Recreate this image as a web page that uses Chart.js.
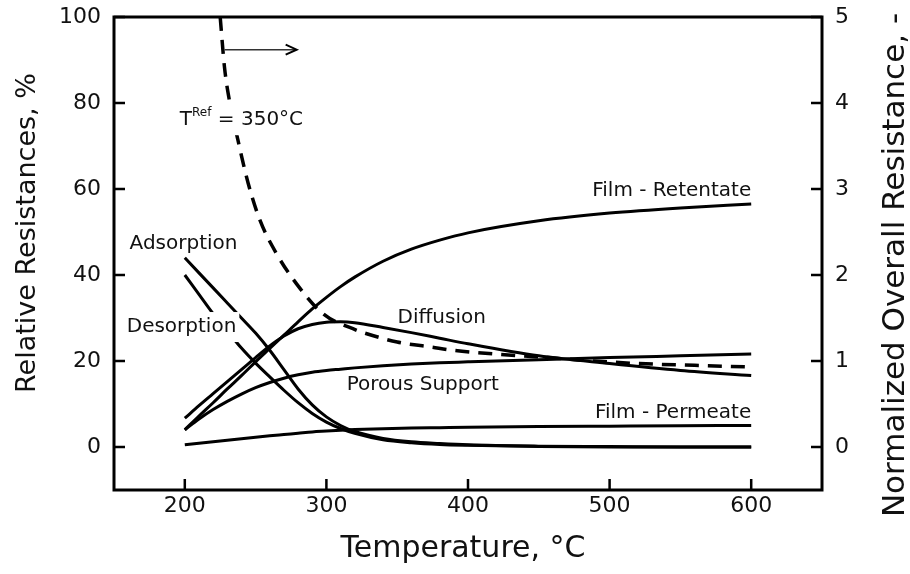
<!DOCTYPE html>
<html>
<head>
<meta charset="utf-8">
<script src="https://cdn.jsdelivr.net/npm/chart.js@4.4.1/dist/chart.umd.min.js"></script>
<style>
  html, body { margin: 0; padding: 0; background: #fff; }
</style>
</head>
<body>
<canvas id="chart" width="910" height="574"></canvas>
<script>
// temperatures (°C) shared by the relative resistance curves
const temps = [200,210,220,230,240,250,260,270,280,290,300,310,320,340,360,380,400,450,500,550,600];
const adsorption = [44,40.5,37,33.5,30,26.5,22.5,18,13.5,9.8,7,5,3.6,2,1.2,0.8,0.5,0.2,0.1,0,0];
const desorption = [40,35.5,31,27,23,19.5,16.3,13.2,10.3,7.8,5.8,4.3,3.2,1.7,1,0.6,0.4,0.1,0,0,0];
const diffusion = [6.7,9.6,12.4,15.2,18,20.8,23.5,25.8,27.5,28.5,29,29.1,28.9,27.8,26.6,25.3,24,21.2,19.4,17.8,16.6];
const filmRetentate = [4,7.2,10.3,13.5,16.6,19.8,22.9,26,29.1,32.1,34.8,37.3,39.5,43.2,46,48.1,49.8,52.6,54.4,55.6,56.5];
const porousSupport = [4,6.5,8.7,10.6,12.3,13.8,15,16,16.8,17.4,17.8,18.1,18.4,18.9,19.3,19.6,19.8,20.3,20.8,21.2,21.6];
const filmPermeate = [0.5,0.85,1.2,1.55,1.9,2.25,2.6,2.9,3.2,3.5,3.7,3.9,4.05,4.25,4.4,4.5,4.6,4.75,4.85,4.95,5];

// normalized overall resistance (right axis), T_ref = 350 °C
const overallTemps = [225,228,231.5,237.5,244.7,253,264.7,278.8,297.6,321,328,350,375,387,420,448,480,521,560,600];
const overall = [5.0,4.42,4.03,3.57,3.07,2.64,2.25,1.9,1.55,1.36,1.32,1.22,1.16,1.13,1.08,1.05,1.01,0.97,0.95,0.93];

const xTicks = [200,300,400,500,600];
const leftTicks = [0,20,40,60,80,100];
const rightTicks = [0,1,2,3,4,5];

const FONT = 'DejaVu Sans';

function pts(xs, ys) {
    return xs.map((x, i) => ({ x: x, y: ys[i] }));
}

function line(data, axis, dash) {
    return {
        data: data,
        yAxisID: axis,
        borderColor: '#000',
        borderWidth: dash ? 3.5 : 3,
        borderDash: dash || [],
        pointRadius: 0,
        fill: false,
        cubicInterpolationMode: 'monotone',
        borderCapStyle: 'butt'
    };
}

// text labels placed in data units (x in °C, y in %)
const labels = [
    { text: 'Adsorption', x: 161, y: 47.2, align: 'left' },
    { text: 'Desorption', x: 159, y: 27.9, align: 'left', bg: true },
    { text: 'Diffusion', x: 350.3, y: 30, align: 'left' },
    { text: 'Porous Support', x: 314.3, y: 14.4, align: 'left' },
    { text: 'Film - Retentate', x: 600, y: 59.5, align: 'right' },
    { text: 'Film - Permeate', x: 600, y: 7.9, align: 'right' }
];

function noPad(s) {
    s.paddingTop = 0;
    s.paddingBottom = 0;
    s.paddingLeft = 0;
    s.paddingRight = 0;
}

function vText(ctx, text, x, y, size) {
    ctx.save();
    ctx.font = size + 'px "' + FONT + '"';
    ctx.translate(x, y);
    ctx.rotate(-Math.PI / 2);
    ctx.fillText(text, 0, 0);
    ctx.restore();
}

const decorations = {
    id: 'decorations',
    afterDatasetsDraw(chart) {
        const ctx = chart.ctx;
        const a = chart.chartArea;
        const sx = chart.scales.x, sy = chart.scales.y, sy2 = chart.scales.y2;
        ctx.save();

        // annotations
        ctx.font = '20px "' + FONT + '"';
        ctx.textBaseline = 'middle';
        ctx.fillStyle = '#111';
        labels.forEach(l => {
            const px = sx.getPixelForValue(l.x);
            const py = sy.getPixelForValue(l.y);
            const w = ctx.measureText(l.text).width;
            const left = l.align === 'left' ? px : px - w;
            if (l.bg) {
                ctx.fillStyle = '#fff';
                ctx.fillRect(left - 3, py - 15, w + 6, 30);
                ctx.fillStyle = '#111';
            }
            ctx.textAlign = 'left';
            ctx.fillText(l.text, left, py);
        });

        // T^Ref = 350°C
        const tx = sx.getPixelForValue(196.5);
        const ty = sy.getPixelForValue(76);
        ctx.font = '20px "' + FONT + '"';
        const w1 = ctx.measureText('T').width;
        ctx.font = '12px "' + FONT + '"';
        const w2 = ctx.measureText('Ref').width;
        ctx.font = '20px "' + FONT + '"';
        const w3 = ctx.measureText(' = 350°C').width;
        ctx.fillStyle = '#fff';
        ctx.fillRect(tx - 2, ty - 17, w1 + w2 + w3 + 4, 32);
        ctx.fillStyle = '#111';
        ctx.textAlign = 'left';
        ctx.fillText('T', tx, ty);
        ctx.font = '12px "' + FONT + '"';
        ctx.fillText('Ref', tx + w1, ty - 7);
        ctx.font = '20px "' + FONT + '"';
        ctx.fillText(' = 350°C', tx + w1 + w2, ty);

        // arrow pointing to the right axis
        const ax0 = sx.getPixelForValue(228), ax1 = sx.getPixelForValue(279);
        const ay = sy2.getPixelForValue(4.62);
        ctx.strokeStyle = '#333';
        ctx.lineWidth = 1.5;
        ctx.beginPath();
        ctx.moveTo(ax0, ay);
        ctx.lineTo(ax1, ay);
        ctx.stroke();
        ctx.strokeStyle = '#000';
        ctx.lineWidth = 2;
        ctx.beginPath();
        ctx.moveTo(ax1 - 11, ay - 5);
        ctx.lineTo(ax1, ay);
        ctx.lineTo(ax1 - 11, ay + 5);
        ctx.stroke();

        // frame
        ctx.strokeStyle = '#000';
        ctx.lineWidth = 3;
        ctx.strokeRect(a.left, a.top, a.right - a.left, a.bottom - a.top);

        // inward ticks
        ctx.lineWidth = 2.5;
        ctx.beginPath();
        xTicks.forEach(v => {
            const p = sx.getPixelForValue(v);
            ctx.moveTo(p, a.bottom);
            ctx.lineTo(p, a.bottom - 11);
        });
        leftTicks.forEach(v => {
            const p = sy.getPixelForValue(v);
            ctx.moveTo(a.left, p);
            ctx.lineTo(a.left + 11, p);
        });
        rightTicks.forEach(v => {
            const p = sy2.getPixelForValue(v);
            ctx.moveTo(a.right, p);
            ctx.lineTo(a.right - 11, p);
        });
        ctx.stroke();

        // axis titles
        ctx.fillStyle = '#111';
        ctx.textAlign = 'center';
        ctx.textBaseline = 'alphabetic';
        ctx.font = '30px "' + FONT + '"';
        ctx.fillText('Temperature, °C', 463, 557);
        vText(ctx, 'Relative Resistances, %', 35, 233, 27);
        vText(ctx, 'Normalized Overall Resistance, -', 904, 265, 31);

        ctx.restore();
    }
};

const tickFont = { family: FONT, size: 22 };

const config = {
    type: 'line',
    data: {
        datasets: [
            line(pts(temps, adsorption), 'y'),
            line(pts(temps, desorption), 'y'),
            line(pts(temps, diffusion), 'y'),
            line(pts(temps, filmRetentate), 'y'),
            line(pts(temps, porousSupport), 'y'),
            line(pts(temps, filmPermeate), 'y'),
            line(pts(overallTemps, overall), 'y2', [14, 9])
        ]
    },
    options: {
        responsive: false,
        animation: false,
        layout: { padding: { top: 17, left: 0, right: 0, bottom: 0 } },
        plugins: {
            legend: { display: false },
            tooltip: { enabled: false }
        },
        scales: {
            x: {
                type: 'linear',
                min: 150,
                max: 650,
                afterBuildTicks: s => { s.ticks = xTicks.map(v => ({ value: v })); },
                afterFit: s => { s.height = 84; noPad(s); },
                grid: { display: false, drawTicks: false },
                border: { display: false },
                ticks: { font: tickFont, color: '#111', padding: 3, maxRotation: 0 }
            },
            y: {
                position: 'left',
                min: -10,
                max: 100,
                afterBuildTicks: s => { s.ticks = leftTicks.map(v => ({ value: v })); },
                afterFit: s => { s.width = 114; noPad(s); },
                grid: { display: false, drawTicks: false },
                border: { display: false },
                ticks: { font: tickFont, color: '#111', padding: 13 }
            },
            y2: {
                position: 'right',
                min: -0.5,
                max: 5,
                afterBuildTicks: s => { s.ticks = rightTicks.map(v => ({ value: v })); },
                afterFit: s => { s.width = 88; noPad(s); },
                grid: { display: false, drawTicks: false },
                border: { display: false },
                ticks: { font: tickFont, color: '#111', padding: 13 }
            }
        }
    },
    plugins: [decorations]
};

window.onload = function() {
    const ctx = document.getElementById('chart').getContext('2d');
    window.myChart = new Chart(ctx, config);
};
</script>
</body>
</html>
